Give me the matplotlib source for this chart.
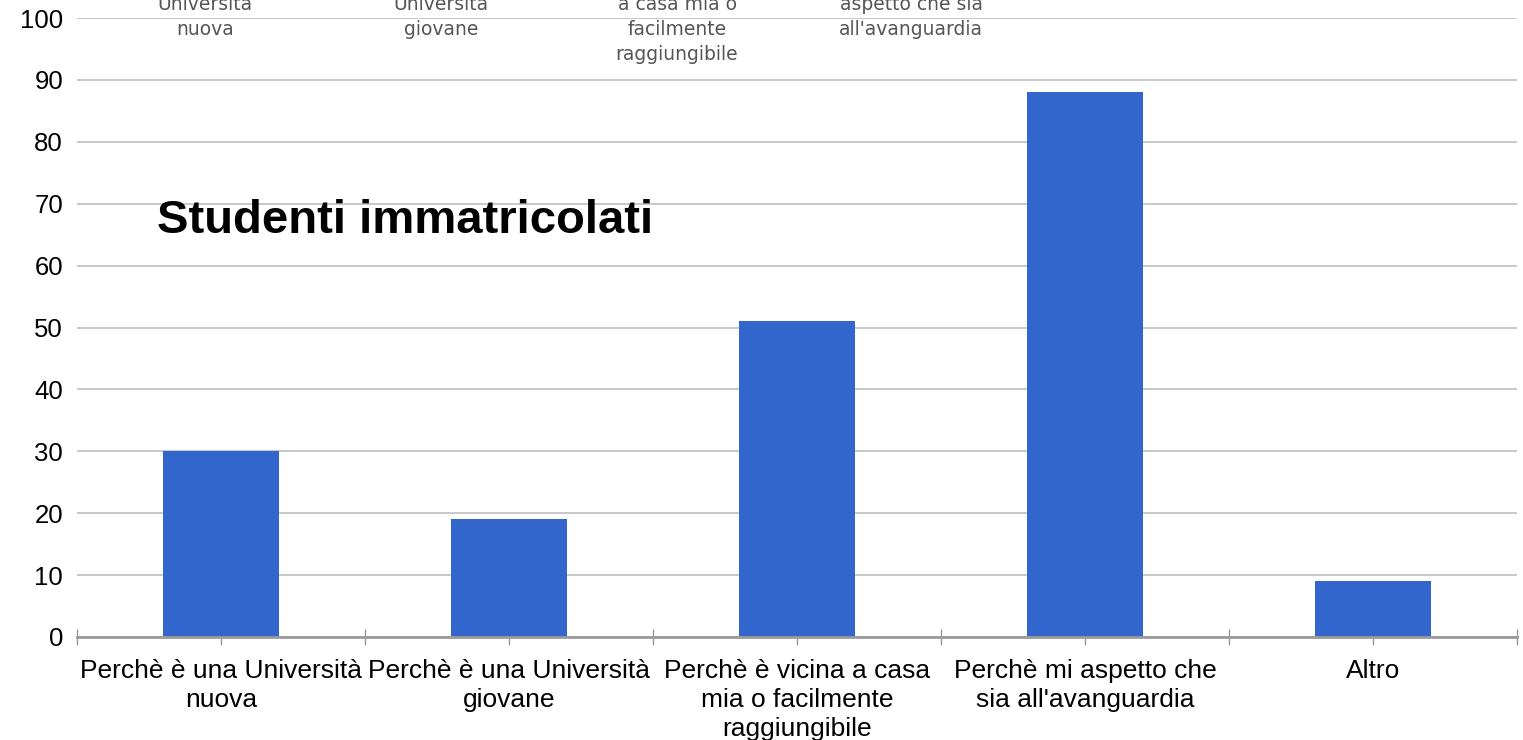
import numpy as np
import matplotlib.pyplot as plt
from matplotlib.ticker import FixedLocator

categorie = ["Perchè è una Università\nnuova",
             "Perchè è una Università\ngiovane",
             "Perchè è vicina a casa\nmia o facilmente\nraggiungibile",
             "Perchè mi aspetto che\nsia all'avanguardia",
             "Altro"]
valori = [30, 19, 51, 88, 9]
y_ticks = [0, 10, 20, 30, 40, 50, 60, 70, 80, 90, 100]

# etichette sovrapposte (residuo in alto nello screenshot)
etichette_alto = ["Università\nnuova",
                  "Università\ngiovane",
                  "a casa mia o\nfacilmente\nraggiungibile",
                  "aspetto che sia\nall'avanguardia"]
x_alto = [205, 441, 677, 911]

plt.rcParams['font.family'] = ['Liberation Sans', 'DejaVu Sans']

W, H = 1523, 740
fig = plt.figure(figsize=(W / 100, H / 100), dpi=100)
ax = fig.add_axes([77 / W, 1 - 637 / H, (1517 - 77) / W, (637 - 18) / H])

x = np.arange(len(valori))
ax.bar(x, valori, width=0.4, color='#3366cc', zorder=3)

ax.set_xlim(-0.5, len(valori) - 0.5)
ax.set_ylim(0, 100)
ax.set_yticks(y_ticks)
ax.yaxis.grid(True, color='#c8c8c8', linewidth=1.4, zorder=0)
ax.set_axisbelow(True)

for s in ['top', 'right', 'left']:
    ax.spines[s].set_visible(False)
ax.spines['bottom'].set_color('#9a9a9a')
ax.spines['bottom'].set_linewidth(2)
ax.spines['bottom'].set_zorder(4)

ax.set_xticks(x)
ax.set_xticklabels(categorie, fontsize=19, linespacing=1.25)
ax.xaxis.set_minor_locator(FixedLocator(np.arange(-0.5, len(valori), 1.0)))
ax.tick_params(axis='x', which='major', direction='out', length=6, width=1,
               color='#9a9a9a', pad=10)
ax.tick_params(axis='x', which='minor', direction='inout', length=11, width=1,
               color='#9a9a9a')
ax.tick_params(axis='y', length=0, pad=10, labelsize=18.5)

fig.text(157 / W, 1 - 233 / H, "Studenti immatricolati", fontsize=34,
         fontweight='bold', ha='left', va='baseline', color='black')

for xx, t in zip(x_alto, etichette_alto):
    fig.text(xx / W, 1 + 5 / H, t, fontsize=13.5, family='DejaVu Sans',
             color='#555555', ha='center', va='top', linespacing=1.4)

fig.savefig('out.png', dpi=100)
